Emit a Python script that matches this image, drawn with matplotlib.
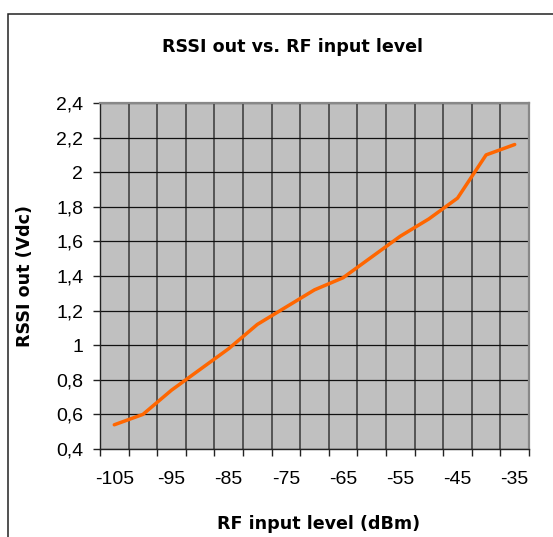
import matplotlib
matplotlib.use("Agg")
import matplotlib.pyplot as plt
from matplotlib.patches import Rectangle
from matplotlib.ticker import FixedLocator, NullFormatter

rf_level = [-105, -100, -95, -90, -85, -80, -75, -70, -65, -60, -55, -50, -45, -40, -35]
rssi_out = [0.54, 0.60, 0.74, 0.86, 0.98, 1.12, 1.22, 1.32, 1.39, 1.51, 1.63, 1.73, 1.85, 2.10, 2.16]
x_labels = ["-105", "-95", "-85", "-75", "-65", "-55", "-45", "-35"]
y_ticks = [0.4, 0.6, 0.8, 1.0, 1.2, 1.4, 1.6, 1.8, 2.0, 2.2, 2.4]
y_labels = ["0,4", "0,6", "0,8", "1", "1,2", "1,4", "1,6", "1,8", "2", "2,2", "2,4"]

W, H = 553, 537
fig = plt.figure(figsize=(W / 100, H / 100), dpi=100)
fig.patch.set_facecolor("white")

# chart area border
fig.add_artist(Rectangle((8 / W, -0.05), 1.2, (H - 14) / H + 0.05, transform=fig.transFigure,
                         fill=False, edgecolor="#222222", linewidth=1.1))

ax = fig.add_axes([100 / W, (H - 449) / H, (529 - 100) / W, (449 - 103) / H])
ax.set_facecolor("#C0C0C0")

step = rf_level[1] - rf_level[0]
bounds = [rf_level[0] - step / 2 + step * i for i in range(len(rf_level) + 1)]
ax.set_xlim(bounds[0], bounds[-1])
ax.set_ylim(0.4, 2.4)

ax.xaxis.set_major_locator(FixedLocator(bounds))
ax.xaxis.set_major_formatter(NullFormatter())
label_pos = rf_level[::2]
ax.set_xticks(label_pos, minor=True)
ax.set_xticklabels(x_labels, minor=True, fontsize=14, family="Liberation Sans")
ax.tick_params(axis="x", which="major", direction="out", length=5, width=1, color="#222222")
ax.tick_params(axis="x", which="minor", length=0, pad=16)
ax.set_yticks(y_ticks)
ax.set_yticklabels(y_labels, fontsize=14, family="Liberation Sans")
ax.tick_params(axis="y", direction="out", length=5, width=1, color="#222222", pad=7)

ax.grid(True, axis="x", which="major", color="#555555", linewidth=1.4)
ax.grid(True, axis="y", color="#111111", linewidth=0.9)
ax.set_axisbelow(True)

for s in ["top", "right"]:
    ax.spines[s].set_color("#888888")
    ax.spines[s].set_linewidth(1.6)
for s in ["left", "bottom"]:
    ax.spines[s].set_color("#222222")
    ax.spines[s].set_linewidth(1.0)

ax.plot(rf_level, rssi_out, color="#FF6600", linewidth=2.5, solid_capstyle="round", zorder=3)

fig.text(293 / W, 1 - 52 / H, "RSSI out vs. RF input level", ha="center", va="baseline",
         fontsize=12.6, fontweight="bold", family="DejaVu Sans")
fig.text(319 / W, 1 - 529 / H, "RF input level (dBm)", ha="center", va="baseline",
         fontsize=12.6, fontweight="bold", family="DejaVu Sans")
fig.text(25 / W, 1 - 276 / H, "RSSI out (Vdc)", ha="center", va="center", rotation=90,
         fontsize=12.6, fontweight="bold", family="DejaVu Sans")

fig.savefig("out.png", dpi=100)
